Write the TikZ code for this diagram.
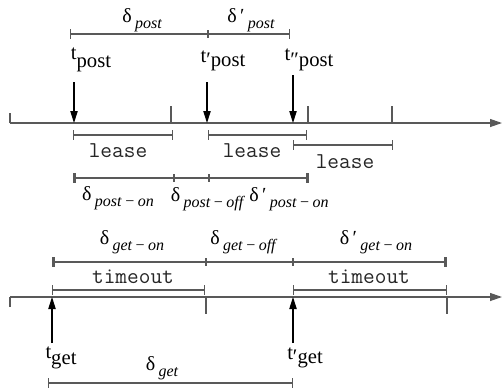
\documentclass[tikz,border=0pt]{standalone}
\usepackage{fontspec}
\setmainfont{Liberation Serif}
\usetikzlibrary{arrows.meta, positioning, calc}

\newcommand{\dsub}[2]{#1\,\raisebox{-4.5pt}{\fontsize{12}{13}\selectfont\itshape #2}}
\newcommand{\traise}[2]{\raisebox{#1}{t}#2}

\begin{document}
\begin{tikzpicture}[x=0.75pt, y=-0.75pt,
    axisline/.style={line width=0.9pt, black!65, -{Triangle[length=9pt, width=6pt]}},
    tickline/.style={line width=0.8pt, black!65},
    event/.style={line width=0.8pt, -{Triangle[length=9pt, width=5.5pt]}},
    span/.style={line width=0.9pt, black!65, {Bar[width=7pt]}-{Bar[width=7pt]}},
    boldspan/.style={line width=0.9pt, black!65,
      {Bar[width=7pt, line width=2pt]}-{Bar[width=7pt, line width=2pt]}},
    boldtick/.style={line width=2pt, black!65},
    tlabel/.style={font=\fontsize{15.5}{17}\selectfont, inner sep=0pt},
    dlabel/.style={font=\fontsize{15}{17}\selectfont, inner sep=0pt},
    monolabel/.style={font=\ttfamily\fontsize{17}{19}\selectfont, text=black!85, inner sep=0pt} ]
    \useasboundingbox (0,0) rectangle (502,387);

    % Post time line
    \coordinate (p0) at (10,123); \coordinate (pend) at (502,123);
    \draw[axisline] (p0) -- (pend);
    \draw[tickline] (10,123) -- (10,113); \draw[tickline] (171,123) -- (171,106);
    \draw[tickline] (308,123) -- (308,106); \draw[tickline] (392,123) -- (392,106);

    % Post events
    \node[tlabel] (tp) at (91,60) {\traise{6pt}{post}};
    \node[tlabel] (tp1) at (223,61) {\traise{3pt}{′post}};
    \node[tlabel] (tp2) at (309,60) {\traise{5pt}{″post}};
    \coordinate (tpa) at (74,82); \coordinate (tpb) at (74,123);
    \coordinate (tp1a) at (207,82); \coordinate (tp1b) at (207,123);
    \coordinate (tp2a) at (293,75); \coordinate (tp2b) at (293,123);
    \draw[event] (tpa) -- (tpb); \draw[event] (tp1a) -- (tp1b);
    \draw[event] (tp2a) -- (tp2b);

    % Post intervals
    \coordinate (dp0) at (70,34); \coordinate (dp1) at (208,34);
    \coordinate (dp2) at (290,34);
    \draw[span] (dp0) -- (dp2); \draw[boldtick] (208,30) -- (208,38);
    \node[dlabel] (dpost) at (142,20) {\dsub{δ}{post}};
    \node[dlabel] (dpost1) at (251,20) {\dsub{δ\,′}{post}};

    % Leases
    \coordinate (l0) at (73,135); \coordinate (l1) at (173,135);
    \coordinate (l2) at (208,135); \coordinate (l3) at (307,135);
    \coordinate (l4) at (293,145); \coordinate (l5) at (393,145);
    \draw[span] (l0) -- (l1); \draw[span] (l2) -- (l3); \draw[span] (l4) -- (l5);
    \node[monolabel] (lease1) at (118,151) {lease};
    \node[monolabel] (lease2) at (252,151) {lease};
    \node[monolabel] (lease3) at (345,162) {lease};

    % On and off periods
    \coordinate (on0) at (73,178); \coordinate (on1) at (309,178);
    \draw[boldspan] (on0) -- (on1);
    \draw[boldtick] (174,174) -- (174,182); \draw[boldtick] (209,174) -- (209,182);
    \node[dlabel] (pon) at (118,198) {\dsub{δ}{post\,−\,on}};
    \node[dlabel] (poff) at (207,199) {\dsub{δ}{post\,−\,off}};
    \node[dlabel] (pon1) at (289,199) {\dsub{δ\,′}{post\,−\,on}};

    % Get periods
    \coordinate (g0) at (52,262); \coordinate (g1) at (447,262);
    \draw[boldspan] (g0) -- (g1);
    \draw[boldtick] (206,258) -- (206,266); \draw[boldtick] (293,258) -- (293,266);
    \node[dlabel] (gon) at (132,242) {\dsub{δ}{get\,−\,on}};
    \node[dlabel] (goff) at (243,242) {\dsub{δ}{get\,−\,off}};
    \node[dlabel] (gon1) at (376,242) {\dsub{δ\,′}{get\,−\,on}};

    % Timeouts
    \coordinate (to0) at (52,290); \coordinate (to1) at (205,290);
    \coordinate (to2) at (293,290); \coordinate (to3) at (447,290);
    \draw[span] (to0) -- (to1); \draw[span] (to2) -- (to3);
    \node[monolabel] (tout1) at (133,277) {timeout};
    \node[monolabel] (tout2) at (369,277) {timeout};

    % Get time line
    \coordinate (g0axis) at (10,297); \coordinate (gend) at (502,297);
    \draw[axisline] (g0axis) -- (gend);
    \draw[tickline] (10,297) -- (10,307); \draw[tickline] (206,297) -- (206,314);
    \draw[tickline] (447,297) -- (447,314);

    % Get events
    \node[tlabel] (tg) at (61,358) {\traise{4pt}{get}};
    \node[tlabel] (tg1) at (305,358) {\traise{3pt}{′get}};
    \coordinate (tga) at (52,343); \coordinate (tgb) at (52,297);
    \coordinate (tg1a) at (293,343); \coordinate (tg1b) at (293,297);
    \draw[event] (tga) -- (tgb); \draw[event] (tg1a) -- (tg1b);

    % Get delay
    \coordinate (dg0) at (48,383); \coordinate (dg1) at (293,383);
    \draw[span] (dg0) -- (dg1);
    \node[dlabel] (dget) at (162,368) {\dsub{δ}{get}};
\end{tikzpicture}
\end{document}
